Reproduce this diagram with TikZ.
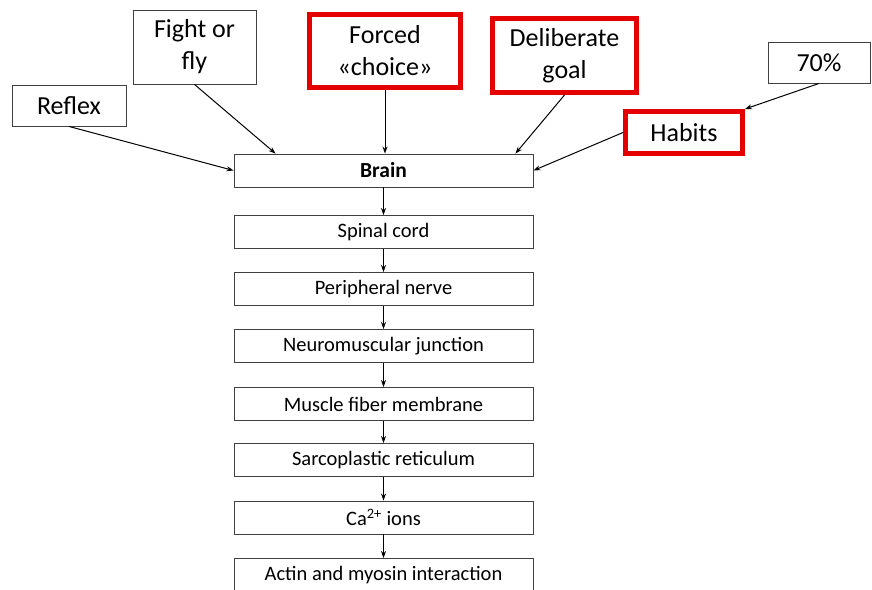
\documentclass[tikz,border=0pt]{standalone}
\usepackage{fontspec}
\setmainfont{Carlito}
\usetikzlibrary{arrows.meta}
\begin{document}
\begin{tikzpicture}[x=1pt,y=-1pt,
  stage/.style={draw=black!75,line width=0.9pt,minimum width=299pt,minimum height=33pt,inner sep=0pt,font=\fontsize{20.5}{22}\selectfont},
  cause/.style={draw=black!75,line width=0.9pt,inner sep=0pt,align=center,font=\fontsize{26}{32}\selectfont},
  keycause/.style={cause,draw=red!90!black,line width=5pt},
  arr/.style={-{Stealth[length=7pt,width=5pt]},line width=1pt}]
\useasboundingbox (0,0) rectangle (872,589);

\node[cause,minimum width=114pt,minimum height=41pt] (reflex) at (69,105.5) {Reflex};
\node[cause,minimum width=123pt,minimum height=74pt] (fight) at (194.5,47) {Fight or\\fly};
\node[keycause,minimum width=151pt,minimum height=73pt] (forced) at (385,51) {Forced\\«choice»};
\node[keycause,minimum width=144pt,minimum height=74pt] (goal) at (564.5,55.5) {Deliberate\\goal};
\node[cause,minimum width=102pt,minimum height=41pt] (seventy) at (819,62.5) {70\%};
\node[keycause,minimum width=117pt,minimum height=42pt] (habits) at (684,132.5) {Habits};

\node[stage,font=\fontsize{21.5}{23}\selectfont\bfseries] (brain) at (383.5,170.5) {Brain};
\node[stage] (spinal) at (383.5,232) {Spinal cord};
\node[stage] (nerve) at (383.5,289) {Peripheral nerve};
\node[stage] (junction) at (383.5,346) {Neuromuscular junction};
\node[stage] (membrane) at (383.5,404) {Muscle fiber membrane};
\node[stage] (reticulum) at (383.5,460) {Sarcoplastic reticulum};
\node[stage] (ions) at (383.5,517.5) {Ca\textsuperscript{2+} ions};
\node[stage] (actin) at (383.5,575) {Actin and myosin interaction};

\draw[arr] (reflex.south) -- (brain.west);
\draw[arr] (fight.south) -- ([xshift=42pt]brain.north west);
\draw[arr] (forced.south) -- (forced.south |- brain.north);
\draw[arr] (goal.south) -- ([xshift=-18pt]brain.north east);
\draw[arr] (habits.west) -- (brain.east);
\draw[arr] (seventy.south) -- (habits.north east);

\draw[arr] (brain) -- (spinal);
\draw[arr] (spinal) -- (nerve);
\draw[arr] (nerve) -- (junction);
\draw[arr] (junction) -- (membrane);
\draw[arr] (membrane) -- (reticulum);
\draw[arr] (reticulum) -- (ions);
\draw[arr] (ions) -- (actin);
\end{tikzpicture}
\end{document}
